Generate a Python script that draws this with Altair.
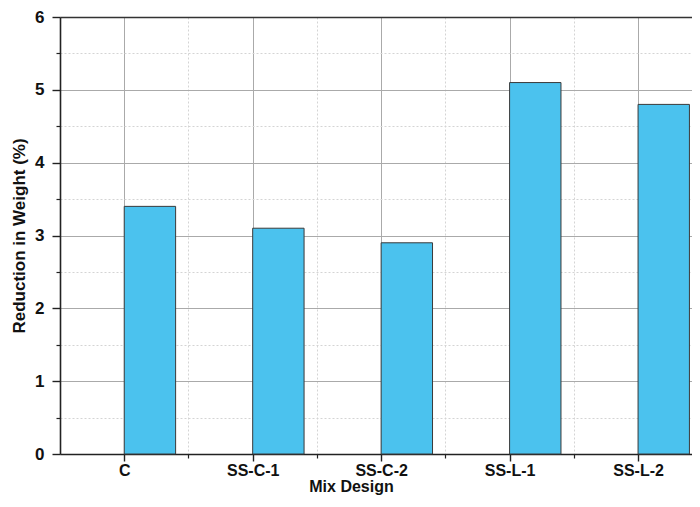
import altair as alt
import pandas as pd

# ---- data ----
categories = ["C", "SS-C-1", "SS-C-2", "SS-L-1", "SS-L-2"]
values = [3.4, 3.1, 2.9, 5.1, 4.8]
y_major_ticks = [0, 1, 2, 3, 4, 5, 6]
y_minor_ticks = [0.5, 1.5, 2.5, 3.5, 4.5, 5.5]
x_major_ticks = [1, 2, 3, 4, 5]
x_minor_ticks = [1.5, 2.5, 3.5, 4.5, 5.5]

BAR_W = 0.4
df = pd.DataFrame({"category": categories, "value": values})
df["pos"] = list(range(1, len(categories) + 1))
df["pos_end"] = df["pos"] + BAR_W
df["base"] = 0.0

label_expr = "[''," + ",".join(f"'{c}'" for c in categories) + "][datum.value]"

# plot is cut on the right in the reference, so the domain stops short of 5.5
xs = alt.Scale(domain=[0.5, 5.42], nice=False, zero=False)
ys = alt.Scale(domain=[0, 6], nice=False)

FONT = "Liberation Sans"
AX = "#222222"

minor = alt.Chart(df).mark_bar(opacity=0).encode(
    x=alt.X("pos:Q", scale=xs, axis=alt.Axis(
        orient="bottom", values=x_minor_ticks, grid=True, gridDash=[2, 2],
        gridColor="#d4d4d4", gridWidth=1, labels=False, domain=False,
        tickSize=4, tickColor=AX, tickWidth=1.2, title=None)),
    x2="pos_end:Q",
    y=alt.Y("value:Q", scale=ys, axis=alt.Axis(
        orient="left", values=y_minor_ticks, grid=True, gridDash=[2, 2],
        gridColor="#d4d4d4", gridWidth=1, labels=False, domain=False,
        tickSize=4, tickColor=AX, tickWidth=1.2, title=None)),
    y2="base:Q",
)

top_line = alt.Chart(df).mark_bar(opacity=0).encode(
    x=alt.X("pos:Q", scale=xs, axis=alt.Axis(
        orient="top", values=x_major_ticks, grid=False, labels=False,
        ticks=False, domain=True, domainColor="#333333", domainWidth=1.6,
        title=None)),
    x2="pos_end:Q",
    y=alt.Y("value:Q", scale=ys, axis=None),
    y2="base:Q",
)

bars = alt.Chart(df).mark_bar(fill="#4BC2EE", stroke="#3a3a3a", strokeWidth=1).encode(
    x=alt.X("pos:Q", scale=xs, axis=alt.Axis(
        orient="bottom", values=x_major_ticks, labelExpr=label_expr,
        grid=True, gridColor="#aaaaaa", gridWidth=1,
        domain=True, domainColor=AX, domainWidth=1.6,
        tickSize=7, tickColor=AX, tickWidth=1.4,
        labelPadding=1, labelFontSize=16, labelFlush=False, labelOverlap=False,
        title="Mix Design", titleFontSize=16, titlePadding=0,
        titleX=291, titleAlign="center")),
    x2="pos_end:Q",
    y=alt.Y("value:Q", scale=ys, axis=alt.Axis(
        orient="left", values=y_major_ticks, format="d",
        grid=True, gridColor="#aaaaaa", gridWidth=1,
        domain=True, domainColor=AX, domainWidth=1.6,
        tickSize=8, tickColor=AX, tickWidth=1.4,
        labelPadding=8, labelFontSize=17,
        title="Reduction in Weight (%)", titleFontSize=17, titlePadding=6)),
    y2="base:Q",
)

chart = alt.layer(minor, top_line, bars).resolve_axis(
    x="independent", y="independent"
).properties(
    width=632, height=437,
    autosize=alt.AutoSizeParams(type="none"),
    padding={"left": 52, "top": 9, "right": 0, "bottom": 41},
).configure_view(
    stroke=None
).configure_axis(
    labelFont=FONT, labelFontWeight="bold", labelColor="#111111",
    titleFont=FONT, titleFontWeight="bold", titleColor="#111111",
)

chart.save("out.html", embed_options={"renderer": "svg", "actions": False})
